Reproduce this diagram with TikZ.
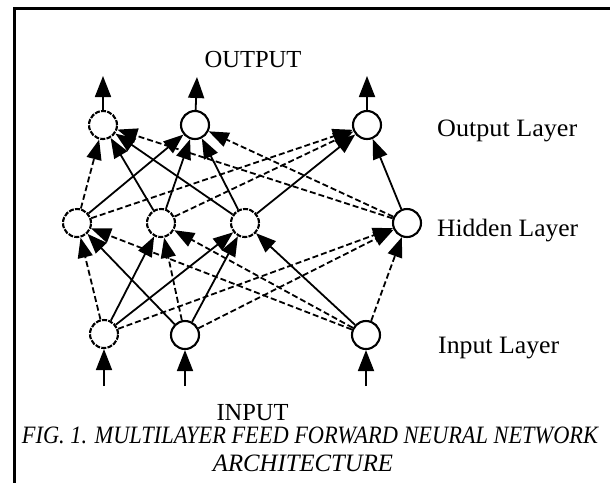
\documentclass[tikz,border=0pt]{standalone}
\usepackage{fontspec}
\setmainfont{Liberation Serif}
\usetikzlibrary{arrows.meta}

% set a text at a fixed width, keeping its natural height
\newcommand{\fitto}[2]{\resizebox{#1}{\height}{#2}}

\begin{document}
\begin{tikzpicture}[x=1pt,y=-1pt,
  neuron/.style={circle,draw,line width=2.1pt,minimum size=28pt,inner sep=0pt,fill=white},
  brokenrim/.style={dash pattern=on 5pt off 1.3pt},
  link/.style={line width=1.8pt,-{Triangle[length=20pt,width=15pt]}},
  dlink/.style={link,dash pattern=on 6pt off 3pt},
  io/.style={line width=1.8pt,-{Triangle[length=21pt,width=16pt]}},
  layerlbl/.style={font=\fontsize{25}{28}\selectfont,anchor=base west,inner sep=0pt},
  iolbl/.style={font=\fontsize{24.5}{28}\selectfont,anchor=base,inner sep=0pt},
  caption/.style={font=\itshape\fontsize{25}{28}\selectfont,anchor=base,inner sep=0pt}]

\useasboundingbox (0,0) rectangle (610,483);

% page frame: top and left rules
\draw[line width=3pt,line join=miter] (610,8) -- (14,8) -- (14,483);

% output layer
\node[neuron,brokenrim] (O1) at (103,125) {};
\node[neuron] (O2) at (195,125) {};
\node[neuron] (O3) at (367,125) {};
% hidden layer
\node[neuron,brokenrim] (H1) at (77,223) {};
\node[neuron,brokenrim] (H2) at (161,223) {};
\node[neuron,brokenrim] (H3) at (245,223) {};
\node[neuron] (H4) at (407,223) {};
% input layer
\node[neuron,brokenrim] (I1) at (104,334) {};
\node[neuron] (I2) at (185,335) {};
\node[neuron] (I3) at (366,335) {};

% input -> hidden
\draw[dlink] (I1) -- (H1);
\draw[link]  (I1) -- (H2);
\draw[link]  (I1) -- (H3);
\draw[dlink] (I1) -- (H4);
\draw[link]  (I2) -- (H1);
\draw[dlink] (I2) -- (H2);
\draw[link]  (I2) -- (H3);
\draw[dlink] (I2) -- (H4);
\draw[dlink] (I3) -- (H1);
\draw[dlink] (I3) -- (H2);
\draw[link]  (I3) -- (H3);
\draw[dlink] (I3) -- (H4);

% hidden -> output
\draw[dlink] (H1) -- (O1);
\draw[link]  (H2) -- (O1);
\draw[link]  (H3) -- (O1);
\draw[dlink] (H4) -- (O1);
\draw[link]  (H1) -- (O2);
\draw[link]  (H2) -- (O2);
\draw[link]  (H3) -- (O2);
\draw[dlink] (H4) -- (O2);
\draw[dlink] (H1) -- (O3);
\draw[dlink] (H2) -- (O3);
\draw[link]  (H3) -- (O3);
\draw[link]  (H4) -- (O3);

% external inputs and outputs
\coordinate (in1) at (104,386);
\coordinate (in2) at (185,386);
\coordinate (in3) at (366,386);
\coordinate (out1) at (103,76);
\coordinate (out2) at (197,77);
\coordinate (out3) at (367,76);
\draw[io] (in1) -- (I1);
\draw[io] (in2) -- (I2);
\draw[io] (in3) -- (I3);
\draw[io] (O1) -- (out1);
\draw[io] (O2) -- (out2);
\draw[io] (O3) -- (out3);

% labels
\node[iolbl] (outlbl) at (253,67) {\fitto{97pt}{OUTPUT}};
\node[iolbl] (inlbl) at (252.5,420) {\fitto{72pt}{INPUT}};
\node[layerlbl] (lo) at (437,136.5) {\fitto{140pt}{Output Layer}};
\node[layerlbl] (lh) at (437,236.5) {\fitto{141pt}{Hidden Layer}};
\node[layerlbl] (li) at (438,353) {\fitto{121pt}{Input Layer}};

% caption
\node[caption] (cap1) at (310,443) {\fitto{576pt}{FIG. 1. MULTILAYER FEED FORWARD NEURAL NETWORK}};
\node[caption] (cap2) at (303,471.5) {\fitto{180pt}{ARCHITECTURE}};
\end{tikzpicture}
\end{document}
